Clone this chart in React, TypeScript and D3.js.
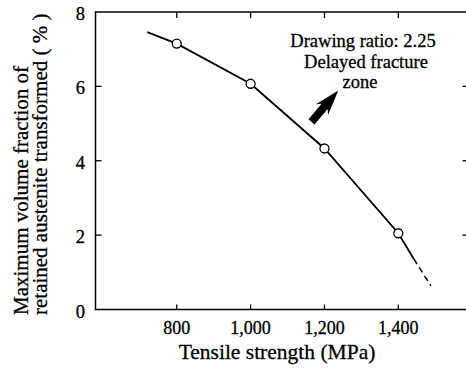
import React from "react";
import * as d3 from "d3";

// Measured points: tensile strength (MPa) vs max. volume fraction of retained austenite transformed (%)
const strengths = [800, 1000, 1200, 1400];
const fractions = [7.15, 6.07, 4.33, 2.05];

// Trend line extended beyond the measured points (solid part), then extrapolated (dashed)
const trendStrengths = [720, 800, 1000, 1200, 1400, 1442];
const trendFractions = [7.46, 7.15, 6.07, 4.33, 2.05, 1.36];
const extrapStrengths = [1442, 1488];
const extrapFractions = [1.36, 0.64];

const xTicks = [800, 1000, 1200, 1400];
const xTickLabels = ["800", "1,000", "1,200", "1,400"];
const yTicks = [0, 2, 4, 6, 8];
const yTickLabels = ["0", "2", "4", "6", "8"];

const xTitle = "Tensile strength (MPa)";
const yTitleLines = ["Maximum volume fraction of", "retained austenite transformed ( % )"];
const noteLines = ["Drawing ratio: 2.25", "Delayed fracture", "zone"];

const FONT = "Liberation Serif";

export default function App() {
  const W = 466;
  const H = 370;
  const x = d3.scaleLinear().domain([580, 1590]).range([95.5, 468.5]);
  const y = d3.scaleLinear().domain([0, 8]).range([309.5, 12]);
  const [x0, x1] = x.range();
  const [yb, yt] = y.range();

  const line = d3
    .line<[number, number]>()
    .x((d) => x(d[0]))
    .y((d) => y(d[1]));

  const trend: [number, number][] = trendStrengths.map((s, i) => [s, trendFractions[i]]);
  const extrap: [number, number][] = extrapStrengths.map((s, i) => [s, extrapFractions[i]]);

  // Thick arrow pointing toward the delayed fracture zone
  const tail = [311.5, 121.8];
  const tip = [338.3, 90.5];
  const dx = tip[0] - tail[0];
  const dy = tip[1] - tail[1];
  const L = Math.hypot(dx, dy);
  const ang = (Math.atan2(dy, dx) * 180) / Math.PI;
  const hl = 25, hw = 8, sw = 4, notch = 4;
  const arrowPts = [
    [0, 0],
    [-hl, -hw],
    [-hl + notch, -sw],
    [-L, -sw],
    [-L, sw],
    [-hl + notch, sw],
    [-hl, hw],
  ]
    .map((p) => p.join(","))
    .join(" ");

  const noteX = [363, 366, 360];
  const noteY = [46.5, 67.5, 88];
  const ts = { fontFamily: FONT };
  const ink = { stroke: "#000", strokeWidth: 0.3 };

  return (
    <svg width={W} height={H} style={{ position: "absolute", left: 0, top: 0, background: "#fff" }}>
      <rect x={0} y={0} width={W} height={H} fill="#fff" />
      {/* frame */}
      <rect x={x0} y={yt} width={x1 - x0} height={yb - yt} fill="none" stroke="#000" strokeWidth={1.5} />

      {/* x ticks: bottom and top, pointing inward */}
      {xTicks.map((t, i) => (
        <g key={"xt" + t}>
          <line x1={x(t)} x2={x(t)} y1={yb} y2={yb - 5} stroke="#000" strokeWidth={1.3} />
          <line x1={x(t)} x2={x(t)} y1={yt} y2={yt + 6} stroke="#000" strokeWidth={1.3} />
          <text x={x(t)} y={334} textAnchor="middle" fontSize={18} fill="#000" style={ts} {...ink}>
            {xTickLabels[i]}
          </text>
        </g>
      ))}

      {/* y ticks: left and right, pointing inward */}
      {yTicks.map((t, i) => (
        <g key={"yt" + t}>
          {t > 0 && t < 8 && (
            <>
              <line x1={x0} x2={x0 + 6} y1={y(t)} y2={y(t)} stroke="#000" strokeWidth={1.3} />
              <line x1={x1} x2={x1 - 6} y1={y(t)} y2={y(t)} stroke="#000" strokeWidth={1.3} />
            </>
          )}
          <text x={85} y={y(t) + 8} textAnchor="end" fontSize={18.5} fill="#000" style={ts} {...ink}>
            {yTickLabels[i]}
          </text>
        </g>
      ))}

      {/* axis titles */}
      <text x={277} y={359} textAnchor="middle" fontSize={21.5} fill="#000" style={ts} {...ink}>
        {xTitle}
      </text>
      {yTitleLines.map((s, i) => (
        <text
          key={s}
          transform={`translate(${28 + i * 19},315) rotate(-90)`}
          textAnchor="start"
          fontSize={21}
          fill="#000"
          style={{ ...ts, whiteSpace: "pre" }}
          {...ink}
        >
          {s}
        </text>
      ))}

      {/* trend line */}
      <path d={line(trend) ?? ""} fill="none" stroke="#000" strokeWidth={1.8} />
      <path d={line(extrap) ?? ""} fill="none" stroke="#000" strokeWidth={1.6} strokeDasharray="6,4" />

      {/* measured points */}
      {strengths.map((s, i) => (
        <circle key={s} cx={x(s)} cy={y(fractions[i])} r={4.5} fill="#fff" stroke="#000" strokeWidth={1.3} />
      ))}

      {/* annotation */}
      {noteLines.map((s, i) => (
        <text key={s} x={noteX[i]} y={noteY[i]} textAnchor="middle" fontSize={18.5} fill="#000" style={ts} {...ink}>
          {s}
        </text>
      ))}
      <polygon points={arrowPts} transform={`translate(${tip[0]},${tip[1]}) rotate(${ang})`} fill="#000" />
    </svg>
  );
}
